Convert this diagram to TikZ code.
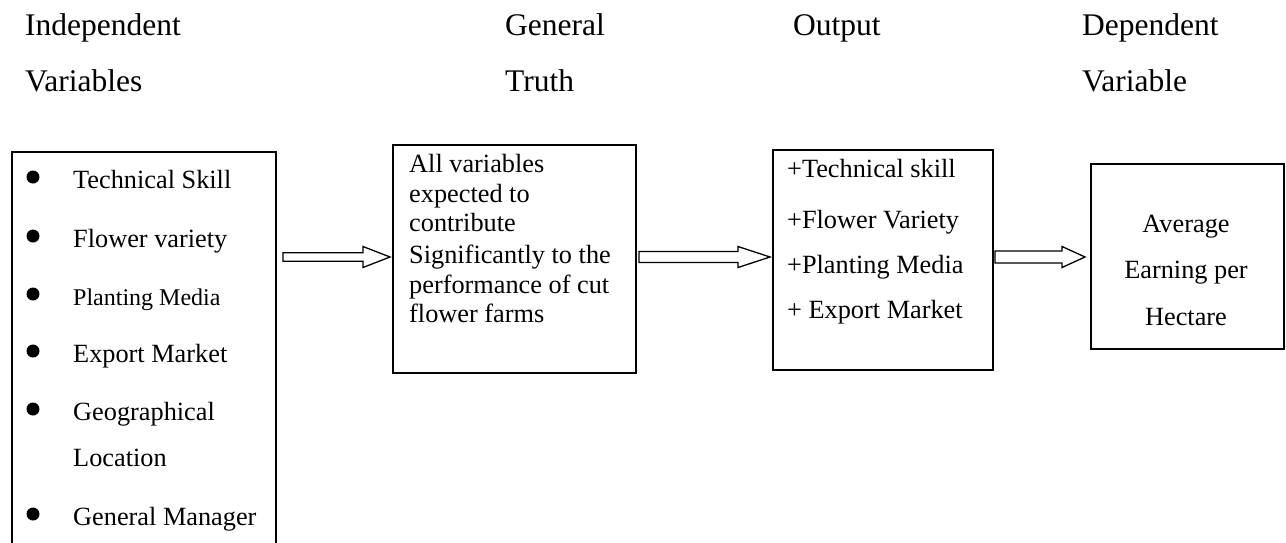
\documentclass[tikz,border=0pt]{standalone}
\usepackage{fontspec}
\setmainfont{Liberation Serif}
\usetikzlibrary{calc}
\newcommand\hdrfont{\fontsize{31.5}{36}\selectfont}
\newcommand\bodyfont{\fontsize{26.3}{30}\selectfont}
\newcommand\smallbodyfont{\fontsize{24}{28}\selectfont}
\newcommand\blockarrow[4]{%
  \draw[barrow] ($(#1)+(0,-#3)$) -- ($(#2)+(-#4,-#3)$) -- ($(#2)+(-#4,-10.5)$) -- (#2)
    -- ($(#2)+(-#4,10.5)$) -- ($(#2)+(-#4,#3)$) -- ($(#1)+(0,#3)$) -- cycle;}
\tikzset{
  txt/.style={anchor=base west, inner sep=0pt, font=\bodyfont},
  hdr/.style={anchor=base west, inner sep=0pt, font=\hdrfont},
  framebox/.style={draw, line width=2pt, inner sep=0pt, anchor=north west},
  barrow/.style={draw, line width=1.3pt, fill=white, line join=miter},
  bul/.style={fill=black}
}
\begin{document}
\begin{tikzpicture}[x=1pt,y=-1pt]
\useasboundingbox (0,0) rectangle (1286,542);
\clip (0,0) rectangle (1286,542);
% headers
\node[hdr] (h1a) at (25,35) {Independent};
\node[hdr] (h1b) at (25,91) {Variables};
\node[hdr] (h2a) at (505,35) {General};
\node[hdr] (h2b) at (505,91) {Truth};
\node[hdr] (h3a) at (793,35) {Output};
\node[hdr] (h4a) at (1082,35) {Dependent};
\node[hdr] (h4b) at (1082,91) {Variable};
% boxes
\node[framebox, minimum width=264pt, minimum height=420pt] (boxa) at (11,151) {};
\node[framebox, minimum width=243pt, minimum height=228pt] (boxb) at (392,144) {};
\node[framebox, minimum width=220pt, minimum height=220pt] (boxc) at (772,149) {};
\node[framebox, minimum width=193pt, minimum height=185pt] (boxd) at (1090,163) {};
% box a: bullet list
\node[txt] (a1) at (73,188) {Technical Skill};
\node[txt] (a2) at (73,247) {Flower variety};
\node[txt, font=\smallbodyfont] (a3) at (73,305) {Planting Media};
\node[txt] (a4) at (73,362) {Export Market};
\node[txt] (a5) at (73,420) {Geographical};
\node[txt] (a6) at (73,466) {Location};
\node[txt] (a7) at (73,525) {General Manager};
\foreach \yy in {188,247,305,362,420,525}{
  \fill[bul] (33,\yy-11) circle (6.5);
}
% box b
\node[txt] (b1) at (409,172) {All variables};
\node[txt] (b2) at (409,202) {expected to};
\node[txt] (b3) at (409,231.5) {contribute};
\node[txt] (b4) at (409,263) {Significantly to the};
\node[txt] (b5) at (409,293) {performance of cut};
\node[txt] (b6) at (409,322) {flower farms};
% box c
\node[txt] (c1) at (787,177) {+Technical skill};
\node[txt] (c2) at (787,228) {+Flower Variety};
\node[txt] (c3) at (787,273) {+Planting Media};
\node[txt] (c4) at (787,318) {+ Export Market};
% box d
\node[txt, anchor=base] (d1) at (1186,232) {Average};
\node[txt, anchor=base] (d2) at (1186,278) {Earning per};
\node[txt, anchor=base] (d3) at (1186,325) {Hectare};
% arrows
\coordinate (arrY) at (0,257);
\coordinate (s1) at ($(boxa.east |- arrY)+(6,0)$);
\coordinate (t1) at ($(boxb.west |- arrY)+(-2,0)$);
\coordinate (s2) at ($(boxb.east |- arrY)+(2,0)$);
\coordinate (t2) at ($(boxc.west |- arrY)+(-2,0)$);
\coordinate (s3) at ($(boxc.east |- arrY)+(1,0)$);
\coordinate (t3) at ($(boxd.west |- arrY)+(-5,0)$);
\blockarrow{s1}{t1}{4.2}{27}
\blockarrow{s2}{t2}{5.5}{32}
\blockarrow{s3}{t3}{6}{23}
\end{tikzpicture}
\end{document}
